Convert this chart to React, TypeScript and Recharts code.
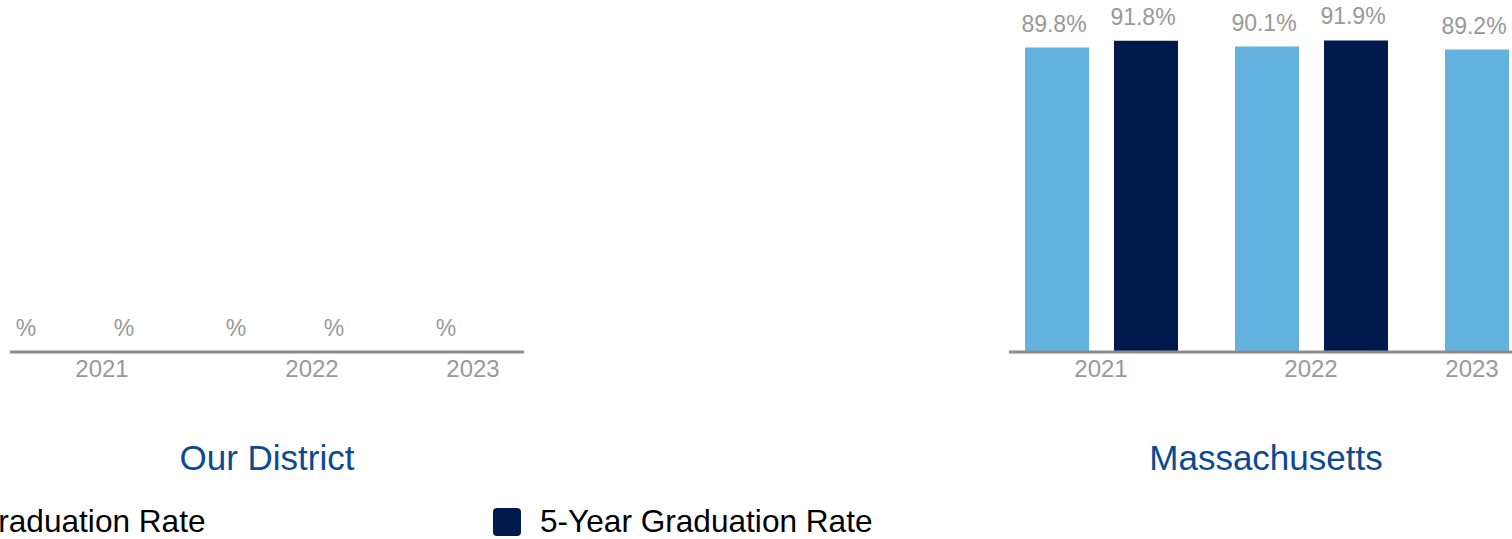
import { BarChart, Bar, XAxis, YAxis, LabelList } from 'recharts'

const YEARS = ['2021', '2022', '2023']

// district has no published rates, only the "%" suffix shows
const DISTRICT_FOUR_YEAR: (number | null)[] = [null, null, null]
const DISTRICT_FIVE_YEAR: (number | null)[] = [null, null, null]

const STATE_FOUR_YEAR = [89.8, 90.1, 89.2]
const STATE_FIVE_YEAR = [91.8, 91.9, null]

const SERIES = [
  { key: 'fourYear', label: '4-Year Graduation Rate', color: '#63B1DE' },
  { key: 'fiveYear', label: '5-Year Graduation Rate', color: '#001A4D' },
]

const CHART_W = 530
const CHART_H = 400
const PLOT_RIGHT = 524
const FONT = "'Liberation Sans', Arial, sans-serif"

function buildRows(four: (number | null)[], five: (number | null)[]) {
  return YEARS.map((year, i) => ({ year, fourYear: four[i], fiveYear: five[i] }))
}

// Highcharts-style justify: keep the last tick label inside the frame
function YearTick(props: any) {
  const { x, y, payload } = props
  const half = 27
  const cx = Math.min(x, PLOT_RIGHT - 24 - half)
  return (
    <text x={cx} y={y} dy={25} textAnchor="middle" fill="#999999" fontSize={24} fontFamily={FONT}>
      {payload.value}
    </text>
  )
}

const fmt = (v: number | null) => (v == null ? '%' : `${v.toFixed(1)}%`)

function makeLabel(dx: number) {
  return (props: any) => {
    const { x, y, width, value } = props
    const empty = value === '%'
    return (
      <text x={x + width / 2 + (empty ? dx : -3)} y={y - 26} dy={10}
        textAnchor="middle" fill="#999999" fontSize={23} fontFamily={FONT}>
        {value}
      </text>
    )
  }
}

function GradChart({ rows }: { rows: any[] }) {
  return (
    <BarChart
      width={CHART_W}
      height={CHART_H}
      data={rows}
      margin={{ top: 13, right: CHART_W - PLOT_RIGHT, bottom: 0, left: 10 }}
      barSize={64}
      barGap={25}
    >
      <XAxis
        dataKey="year"
        height={48}
        padding={{ left: -13, right: -103 }}
        axisLine={{ stroke: '#8C8C8C', strokeWidth: 3 }}
        tickLine={false}
        tickSize={0}
        tickMargin={0}
        interval={0}
        tick={<YearTick />}
      />
      <YAxis hide domain={[0, 100]} />
      {SERIES.map((s, i) => (
        <Bar
          key={s.key}
          dataKey={(row: any) => row[s.key] ?? 0}
          name={s.label}
          fill={s.color}
          minPointSize={0.01}
          isAnimationActive={false}
        >
          <LabelList
            valueAccessor={(entry: any) => fmt(entry.payload[s.key])}
            content={makeLabel(i === 0 ? -32 : -23)}
          />
        </Bar>
      ))}
    </BarChart>
  )
}

const titleStyle: React.CSSProperties = {
  position: 'absolute',
  top: 434,
  width: 514,
  textAlign: 'center',
  color: '#0B4A93',
  fontSize: 35,
  fontFamily: FONT,
  lineHeight: '48px',
}

export default function App() {
  return (
    <div style={{ position: 'fixed', left: 0, top: 0, width: 1512, height: 539, overflow: 'hidden', background: '#fff' }}>
      <div style={{ position: 'absolute', left: 0, top: 0 }}>
        <GradChart rows={buildRows(DISTRICT_FOUR_YEAR, DISTRICT_FIVE_YEAR)} />
      </div>
      <div style={{ position: 'absolute', left: 999, top: 0 }}>
        <GradChart rows={buildRows(STATE_FOUR_YEAR, STATE_FIVE_YEAR)} />
      </div>
      <div style={{ ...titleStyle, left: 10 }}>Our District</div>
      <div style={{ ...titleStyle, left: 1009 }}>Massachusetts</div>
      {SERIES.map((s, i) => (
        <div key={s.key} style={{
          position: 'absolute', left: -174 + i * 667, top: 503,
          display: 'flex', alignItems: 'center', whiteSpace: 'nowrap',
          fontFamily: FONT, fontSize: 31.6, color: '#000',
        }}>
          <span style={{ width: 28, height: 28, borderRadius: 4, background: s.color, marginRight: 19 }} />
          {s.label}
        </div>
      ))}
    </div>
  )
}
